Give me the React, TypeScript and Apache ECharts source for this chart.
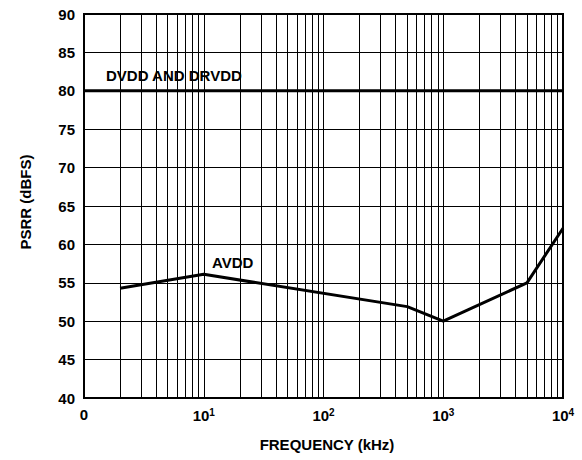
import React, { useEffect, useRef } from "react";
import * as echarts from "echarts";

const FONT = "'Liberation Sans', Arial, Helvetica, sans-serif";

// AVDD PSRR curve: [frequency kHz, dBFS]
const avddFreq = [2, 10, 500, 1000, 5000, 10000];
const avddValue = [54.3, 56.1, 51.9, 50.0, 55.0, 62.1];

// DVDD and DRVDD PSRR
const dvddFreq = [1, 10000];
const dvddValue = [80, 80];

// minor vertical grid lines of the log axis
const minorGrid = [
  2, 3, 4, 5, 6, 7, 8, 9,
  20, 30, 40, 50, 60, 70, 80, 90,
  200, 300, 400, 500, 600, 700, 800, 900,
  2000, 3000, 4000, 5000, 6000, 7000, 8000, 9000,
];

const yTicks = { min: 40, max: 90, interval: 5 };

export default function App() {
  const ref = useRef<HTMLDivElement>(null);
  useEffect(() => {
    if (!ref.current) return;
    const chart = echarts.init(ref.current, undefined, { renderer: "svg" });
    const avdd = avddFreq.map((f, i) => [f, avddValue[i]]);
    const dvdd = dvddFreq.map((f, i) => [f, dvddValue[i]]);
    chart.setOption({
      animation: false,
      backgroundColor: "#fff",
      grid: {
        left: 84,
        top: 14,
        right: 19,
        bottom: 62,
        show: true,
        borderColor: "#000",
        borderWidth: 2,
        backgroundColor: "transparent",
      },
      xAxis: {
        type: "log",
        logBase: 10,
        min: 1,
        max: 10000,
        axisLine: { show: true, lineStyle: { color: "#000", width: 2 } },
        axisTick: { show: false },
        splitLine: { show: true, lineStyle: { color: "#000", width: 1 } },
        axisLabel: {
          margin: 9,
          color: "#000",
          fontFamily: FONT,
          fontSize: 15,
          fontWeight: "bold",
          formatter: (v: number) => {
            const e = Math.round(Math.log10(v));
            if (e === 0) return "0";
            return `{b|10}{s|${e}}`;
          },
          rich: {
            b: { fontFamily: FONT, fontSize: 15, fontWeight: "bold", lineHeight: 16, color: "#000" },
            s: { fontFamily: FONT, fontSize: 10, fontWeight: "bold", lineHeight: 8, verticalAlign: "top", color: "#000" },
          },
        },
      },
      yAxis: {
        type: "value",
        min: yTicks.min,
        max: yTicks.max,
        interval: yTicks.interval,
        axisLine: { show: true, lineStyle: { color: "#000", width: 2 } },
        axisTick: { show: false },
        splitLine: { show: true, lineStyle: { color: "#000", width: 1 } },
        axisLabel: {
          margin: 9,
          color: "#000",
          fontFamily: FONT,
          fontSize: 15,
          fontWeight: "bold",
        },
      },
      series: [
        {
          name: "grid",
          type: "line",
          data: [],
          silent: true,
          z: 1,
          markLine: {
            silent: true,
            symbol: "none",
            animation: false,
            label: { show: false },
            lineStyle: { color: "#000", width: 1, type: "solid" },
            data: minorGrid.map((v) => ({ xAxis: v })),
          },
        },
        {
          name: "DVDD AND DRVDD",
          type: "line",
          data: dvdd,
          showSymbol: false,
          symbol: "none",
          z: 3,
          lineStyle: { color: "#000", width: 3 },
        },
        {
          name: "AVDD",
          type: "line",
          data: avdd,
          showSymbol: false,
          symbol: "none",
          z: 3,
          lineStyle: { color: "#000", width: 3 },
        },
      ],
      graphic: [
        {
          type: "text",
          x: 106,
          y: 75,
          style: {
            text: "DVDD AND DRVDD",
            fill: "#000",
            font: `bold 15px ${FONT}`,
            align: "left",
            verticalAlign: "middle",
            textAlign: "left",
            textVerticalAlign: "middle",
          },
        },
        {
          type: "text",
          x: 212,
          y: 262,
          style: {
            text: "AVDD",
            fill: "#000",
            font: `bold 15px ${FONT}`,
            align: "left",
            verticalAlign: "middle",
            textAlign: "left",
            textVerticalAlign: "middle",
          },
        },
        {
          type: "text",
          x: 25,
          y: 202,
          rotation: Math.PI / 2,
          style: {
            text: "PSRR (dBFS)",
            fill: "#000",
            font: `bold 15px ${FONT}`,
            align: "center",
            verticalAlign: "middle",
            textAlign: "center",
            textVerticalAlign: "middle",
          },
        },
        {
          type: "text",
          x: 327,
          y: 444,
          style: {
            text: "FREQUENCY (kHz)",
            fill: "#000",
            font: `bold 15px ${FONT}`,
            align: "center",
            verticalAlign: "middle",
            textAlign: "center",
            textVerticalAlign: "middle",
          },
        },
      ],
    });
    return () => chart.dispose();
  }, []);
  return (
    <div
      ref={ref}
      style={{ position: "fixed", left: 0, top: 0, width: 582, height: 460 }}
    />
  );
}
